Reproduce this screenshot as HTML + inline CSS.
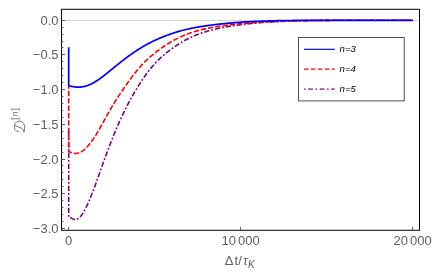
<!DOCTYPE html>
<html><head><meta charset="utf-8"><title>plot</title>
<style>
html,body{margin:0;padding:0;background:#fff;}
body{width:436px;height:278px;overflow:hidden;font-family:"Liberation Sans",sans-serif;}
svg{display:block;will-change:transform;}
svg text{font-family:"Liberation Sans",sans-serif;}
</style></head><body>
<svg width="436" height="278" viewBox="0 0 436 278">
<rect x="0" y="0" width="436" height="278" fill="#fff"/>
<!-- grid line y=0 -->
<line x1="61.5" y1="20.5" x2="419.5" y2="20.5" stroke="#d2d2d2" stroke-width="1"/>
<!-- curves -->
<g fill="none" stroke-width="1.72" stroke-linejoin="round">
<path stroke="#800080" stroke-width="1.62" stroke-dasharray="5.2 2 1.8 2" stroke-dashoffset="10.3" d="M68.70,130.00 L68.70,217.07 L69.20,217.09 L69.70,217.24 L70.20,217.46 L70.70,217.74 L71.20,218.03 L71.70,218.33 L72.20,218.61 L72.70,218.87 L73.20,219.09 L73.70,219.27 L74.20,219.40 L74.70,219.48 L75.20,219.51 L75.70,219.49 L76.20,219.41 L76.70,219.27 L77.20,219.08 L77.70,218.83 L78.20,218.53 L78.70,218.17 L79.20,217.76 L79.70,217.30 L80.20,216.78 L80.70,216.21 L81.20,215.60 L81.70,214.94 L82.20,214.23 L82.70,213.47 L83.20,212.68 L83.70,211.84 L84.20,210.97 L84.70,210.06 L85.20,209.12 L85.70,208.15 L86.20,207.15 L86.70,206.11 L87.20,205.06 L87.70,203.97 L88.20,202.86 L88.70,201.73 L89.20,200.58 L89.70,199.40 L90.20,198.21 L90.70,196.99 L91.20,195.76 L91.70,194.51 L92.20,193.25 L92.70,191.97 L93.20,190.67 L93.70,189.36 L94.20,188.04 L94.70,186.70 L95.20,185.35 L95.70,183.99 L96.20,182.62 L96.70,181.24 L97.20,179.85 L97.70,178.45 L98.20,177.05 L98.70,175.65 L99.20,174.24 L99.70,172.84 L100.20,171.43 L100.70,170.02 L101.20,168.61 L101.70,167.20 L102.20,165.80 L102.70,164.40 L103.20,163.00 L103.70,161.60 L104.20,160.22 L104.70,158.83 L105.20,157.46 L105.70,156.08 L106.20,154.72 L106.70,153.36 L107.20,152.01 L107.70,150.67 L108.20,149.33 L108.70,148.01 L109.20,146.69 L109.70,145.38 L110.20,144.08 L110.70,142.78 L111.20,141.50 L111.70,140.23 L112.20,138.96 L112.70,137.71 L113.20,136.47 L113.70,135.23 L114.20,134.01 L114.70,132.79 L115.20,131.58 L115.70,130.39 L116.20,129.20 L116.70,128.03 L117.20,126.86 L117.70,125.70 L118.20,124.56 L118.70,123.42 L119.20,122.30 L119.70,121.18 L120.20,120.07 L120.70,118.98 L121.20,117.89 L121.70,116.82 L122.20,115.75 L122.70,114.69 L123.20,113.65 L123.70,112.61 L124.20,111.58 L124.70,110.57 L125.20,109.56 L125.70,108.56 L126.20,107.57 L126.70,106.59 L127.20,105.61 L127.70,104.65 L128.20,103.69 L128.70,102.75 L129.20,101.81 L129.70,100.88 L130.00,100.32 L131.00,98.49 L132.00,96.69 L133.00,94.93 L134.00,93.19 L135.00,91.48 L136.00,89.80 L137.00,88.15 L138.00,86.52 L139.00,84.92 L140.00,83.35 L141.00,81.81 L142.00,80.30 L143.00,78.82 L144.00,77.37 L145.00,75.95 L146.00,74.56 L147.00,73.20 L148.00,71.87 L149.00,70.58 L150.00,69.31 L151.00,68.08 L152.00,66.88 L153.00,65.71 L154.00,64.57 L155.00,63.46 L156.00,62.39 L157.00,61.34 L158.00,60.33 L159.00,59.34 L160.00,58.38 L161.00,57.45 L162.00,56.54 L163.00,55.66 L164.00,54.80 L165.00,53.95 L166.00,53.13 L167.00,52.33 L168.00,51.54 L169.00,50.77 L170.00,50.02 L171.00,49.28 L172.00,48.56 L173.00,47.85 L174.00,47.15 L175.00,46.47 L176.00,45.79 L177.00,45.13 L178.00,44.48 L179.00,43.85 L180.00,43.23 L181.00,42.62 L182.00,42.03 L183.00,41.44 L184.00,40.88 L185.00,40.32 L186.00,39.78 L187.00,39.25 L188.00,38.74 L189.00,38.23 L190.00,37.75 L191.00,37.27 L192.00,36.81 L193.00,36.36 L194.00,35.93 L195.00,35.51 L196.00,35.10 L197.00,34.70 L198.00,34.32 L199.00,33.94 L200.00,33.58 L201.00,33.23 L202.00,32.89 L203.00,32.56 L204.00,32.24 L205.00,31.92 L206.00,31.62 L207.00,31.32 L208.00,31.04 L209.00,30.76 L210.00,30.49 L211.00,30.22 L212.00,29.96 L213.00,29.71 L214.00,29.47 L215.00,29.23 L216.00,29.00 L217.00,28.77 L218.00,28.55 L219.00,28.33 L220.00,28.12 L221.00,27.92 L222.00,27.71 L223.00,27.52 L224.00,27.32 L225.00,27.14 L226.00,26.95 L227.00,26.77 L228.00,26.60 L229.00,26.42 L230.00,26.26 L231.00,26.09 L232.00,25.93 L233.00,25.77 L234.00,25.62 L235.00,25.47 L236.00,25.32 L237.00,25.18 L238.00,25.04 L239.00,24.91 L240.00,24.77 L241.00,24.64 L242.00,24.52 L243.00,24.39 L244.00,24.27 L245.00,24.15 L246.00,24.04 L247.00,23.93 L248.00,23.82 L249.00,23.71 L250.00,23.60 L251.00,23.50 L252.00,23.40 L253.00,23.31 L254.00,23.21 L255.00,23.12 L256.00,23.03 L257.00,22.94 L258.00,22.86 L259.00,22.78 L260.00,22.70 L261.00,22.62 L262.00,22.54 L263.00,22.47 L264.00,22.39 L265.00,22.32 L266.00,22.26 L267.00,22.19 L268.00,22.12 L269.00,22.06 L270.00,22.00 L271.00,21.94 L272.00,21.88 L273.00,21.83 L274.00,21.77 L275.00,21.72 L276.00,21.67 L277.00,21.62 L278.00,21.57 L279.00,21.52 L280.00,21.48 L281.00,21.43 L282.00,21.39 L283.00,21.35 L284.00,21.31 L285.00,21.27 L286.00,21.23 L287.00,21.19 L288.00,21.16 L289.00,21.12 L290.00,21.09 L291.00,21.05 L292.00,21.02 L293.00,20.99 L294.00,20.96 L295.00,20.93 L296.00,20.91 L297.00,20.88 L298.00,20.85 L299.00,20.83 L300.00,20.81 L301.00,20.78 L302.00,20.76 L303.00,20.74 L304.00,20.72 L305.00,20.70 L306.00,20.68 L307.00,20.66 L308.00,20.64 L309.00,20.62 L310.00,20.61 L311.00,20.59 L312.00,20.57 L313.00,20.56 L314.00,20.55 L315.00,20.53 L316.00,20.52 L317.00,20.51 L318.00,20.49 L319.00,20.48 L320.00,20.47 L321.00,20.46 L322.00,20.45 L323.00,20.44 L324.00,20.43 L325.00,20.42 L326.00,20.42 L327.00,20.41 L328.00,20.40 L329.00,20.39 L330.00,20.39 L331.00,20.30 L332.00,20.30 L333.00,20.30 L334.00,20.30 L335.00,20.30 L336.00,20.30 L337.00,20.30 L338.00,20.30 L339.00,20.30 L340.00,20.30 L341.00,20.30 L342.00,20.30 L343.00,20.30 L344.00,20.30 L345.00,20.30 L346.00,20.30 L347.00,20.30 L348.00,20.30 L349.00,20.30 L350.00,20.30 L351.00,20.30 L352.00,20.30 L353.00,20.30 L354.00,20.30 L355.00,20.30 L356.00,20.30 L357.00,20.30 L358.00,20.30 L359.00,20.30 L360.00,20.30 L361.00,20.30 L362.00,20.30 L363.00,20.30 L364.00,20.30 L365.00,20.30 L366.00,20.30 L367.00,20.30 L368.00,20.30 L369.00,20.30 L370.00,20.30 L371.00,20.30 L372.00,20.30 L373.00,20.30 L374.00,20.30 L375.00,20.30 L376.00,20.30 L377.00,20.30 L378.00,20.30 L379.00,20.30 L380.00,20.30 L381.00,20.30 L382.00,20.30 L383.00,20.30 L384.00,20.30 L385.00,20.30 L386.00,20.30 L387.00,20.30 L388.00,20.30 L389.00,20.30 L390.00,20.30 L391.00,20.30 L392.00,20.30 L393.00,20.30 L394.00,20.30 L395.00,20.30 L396.00,20.30 L397.00,20.30 L398.00,20.30 L399.00,20.30 L400.00,20.30 L401.00,20.30 L402.00,20.30 L403.00,20.30 L404.00,20.30 L405.00,20.30 L406.00,20.30 L407.00,20.30 L408.00,20.30 L409.00,20.30 L410.00,20.30 L411.00,20.30 L412.00,20.30 L413.00,20.30"/>
<path stroke="#ff0000" stroke-width="1.62" stroke-dasharray="5.3 2.05" stroke-dashoffset="3.05" d="M68.70,86.60 L68.70,151.67 L69.20,151.78 L69.70,151.93 L70.20,152.10 L70.70,152.29 L71.20,152.49 L71.70,152.67 L72.20,152.84 L72.70,153.00 L73.20,153.14 L73.70,153.25 L74.20,153.34 L74.70,153.40 L75.20,153.44 L75.70,153.44 L76.20,153.42 L76.70,153.38 L77.20,153.30 L77.70,153.20 L78.20,153.07 L78.70,152.91 L79.20,152.73 L79.70,152.53 L80.20,152.30 L80.70,152.04 L81.20,151.77 L81.70,151.47 L82.20,151.14 L82.70,150.80 L83.20,150.44 L83.70,150.05 L84.20,149.64 L84.70,149.22 L85.20,148.77 L85.70,148.30 L86.20,147.82 L86.70,147.31 L87.20,146.78 L87.70,146.24 L88.20,145.68 L88.70,145.10 L89.20,144.50 L89.70,143.88 L90.20,143.25 L90.70,142.60 L91.20,141.94 L91.70,141.26 L92.20,140.56 L92.70,139.85 L93.20,139.13 L93.70,138.39 L94.20,137.64 L94.70,136.87 L95.20,136.09 L95.70,135.30 L96.20,134.49 L96.70,133.67 L97.20,132.84 L97.70,132.00 L98.20,131.15 L98.70,130.28 L99.20,129.41 L99.70,128.53 L100.20,127.65 L100.70,126.75 L101.20,125.86 L101.70,124.95 L102.20,124.05 L102.70,123.14 L103.20,122.24 L103.70,121.33 L104.20,120.42 L104.70,119.52 L105.20,118.61 L105.70,117.71 L106.20,116.80 L106.70,115.91 L107.20,115.01 L107.70,114.12 L108.20,113.23 L108.70,112.35 L109.20,111.47 L109.70,110.59 L110.20,109.73 L110.70,108.86 L111.20,108.01 L111.70,107.15 L112.20,106.31 L112.70,105.47 L113.20,104.64 L113.70,103.82 L114.20,103.00 L114.70,102.19 L115.20,101.38 L115.70,100.58 L116.20,99.79 L116.70,99.00 L117.20,98.22 L117.70,97.44 L118.20,96.67 L118.70,95.90 L119.20,95.14 L119.70,94.38 L120.20,93.63 L120.70,92.88 L121.20,92.13 L121.70,91.39 L122.20,90.65 L122.70,89.92 L123.20,89.19 L123.70,88.46 L124.20,87.74 L124.70,87.02 L125.20,86.30 L125.70,85.59 L126.20,84.88 L126.70,84.17 L127.20,83.47 L127.70,82.77 L128.20,82.07 L128.70,81.37 L129.20,80.68 L129.70,79.99 L130.00,79.57 L131.00,78.21 L132.00,76.87 L133.00,75.54 L134.00,74.24 L135.00,72.96 L136.00,71.70 L137.00,70.47 L138.00,69.27 L139.00,68.09 L140.00,66.94 L141.00,65.83 L142.00,64.74 L143.00,63.68 L144.00,62.65 L145.00,61.65 L146.00,60.68 L147.00,59.74 L148.00,58.83 L149.00,57.93 L150.00,57.06 L151.00,56.20 L152.00,55.36 L153.00,54.54 L154.00,53.73 L155.00,52.94 L156.00,52.15 L157.00,51.38 L158.00,50.62 L159.00,49.87 L160.00,49.13 L161.00,48.41 L162.00,47.70 L163.00,47.00 L164.00,46.31 L165.00,45.64 L166.00,44.98 L167.00,44.33 L168.00,43.70 L169.00,43.08 L170.00,42.48 L171.00,41.88 L172.00,41.31 L173.00,40.74 L174.00,40.19 L175.00,39.65 L176.00,39.13 L177.00,38.62 L178.00,38.12 L179.00,37.64 L180.00,37.17 L181.00,36.71 L182.00,36.26 L183.00,35.83 L184.00,35.41 L185.00,35.00 L186.00,34.60 L187.00,34.21 L188.00,33.83 L189.00,33.47 L190.00,33.11 L191.00,32.77 L192.00,32.43 L193.00,32.11 L194.00,31.79 L195.00,31.48 L196.00,31.18 L197.00,30.89 L198.00,30.61 L199.00,30.34 L200.00,30.08 L201.00,29.83 L202.00,29.58 L203.00,29.34 L204.00,29.11 L205.00,28.89 L206.00,28.67 L207.00,28.46 L208.00,28.25 L209.00,28.06 L210.00,27.86 L211.00,27.68 L212.00,27.50 L213.00,27.32 L214.00,27.15 L215.00,26.98 L216.00,26.82 L217.00,26.66 L218.00,26.51 L219.00,26.36 L220.00,26.21 L221.00,26.07 L222.00,25.93 L223.00,25.79 L224.00,25.66 L225.00,25.53 L226.00,25.40 L227.00,25.27 L228.00,25.15 L229.00,25.02 L230.00,24.90 L231.00,24.79 L232.00,24.67 L233.00,24.56 L234.00,24.45 L235.00,24.34 L236.00,24.23 L237.00,24.13 L238.00,24.03 L239.00,23.92 L240.00,23.83 L241.00,23.73 L242.00,23.63 L243.00,23.54 L244.00,23.45 L245.00,23.36 L246.00,23.27 L247.00,23.19 L248.00,23.11 L249.00,23.02 L250.00,22.94 L251.00,22.87 L252.00,22.79 L253.00,22.71 L254.00,22.64 L255.00,22.57 L256.00,22.50 L257.00,22.43 L258.00,22.36 L259.00,22.30 L260.00,22.24 L261.00,22.17 L262.00,22.11 L263.00,22.06 L264.00,22.00 L265.00,21.94 L266.00,21.89 L267.00,21.83 L268.00,21.78 L269.00,21.73 L270.00,21.68 L271.00,21.64 L272.00,21.59 L273.00,21.54 L274.00,21.50 L275.00,21.46 L276.00,21.42 L277.00,21.38 L278.00,21.34 L279.00,21.30 L280.00,21.26 L281.00,21.23 L282.00,21.19 L283.00,21.16 L284.00,21.13 L285.00,21.09 L286.00,21.06 L287.00,21.03 L288.00,21.00 L289.00,20.98 L290.00,20.95 L291.00,20.92 L292.00,20.90 L293.00,20.87 L294.00,20.85 L295.00,20.82 L296.00,20.80 L297.00,20.78 L298.00,20.76 L299.00,20.74 L300.00,20.72 L301.00,20.70 L302.00,20.68 L303.00,20.66 L304.00,20.64 L305.00,20.63 L306.00,20.61 L307.00,20.59 L308.00,20.58 L309.00,20.56 L310.00,20.55 L311.00,20.54 L312.00,20.52 L313.00,20.51 L314.00,20.50 L315.00,20.49 L316.00,20.48 L317.00,20.47 L318.00,20.46 L319.00,20.45 L320.00,20.44 L321.00,20.43 L322.00,20.42 L323.00,20.41 L324.00,20.40 L325.00,20.39 L326.00,20.39 L327.00,20.38 L328.00,20.37 L329.00,20.37 L330.00,20.36 L331.00,20.30 L332.00,20.30 L333.00,20.30 L334.00,20.30 L335.00,20.30 L336.00,20.30 L337.00,20.30 L338.00,20.30 L339.00,20.30 L340.00,20.30 L341.00,20.30 L342.00,20.30 L343.00,20.30 L344.00,20.30 L345.00,20.30 L346.00,20.30 L347.00,20.30 L348.00,20.30 L349.00,20.30 L350.00,20.30 L351.00,20.30 L352.00,20.30 L353.00,20.30 L354.00,20.30 L355.00,20.30 L356.00,20.30 L357.00,20.30 L358.00,20.30 L359.00,20.30 L360.00,20.30 L361.00,20.30 L362.00,20.30 L363.00,20.30 L364.00,20.30 L365.00,20.30 L366.00,20.30 L367.00,20.30 L368.00,20.30 L369.00,20.30 L370.00,20.30 L371.00,20.30 L372.00,20.30 L373.00,20.30 L374.00,20.30 L375.00,20.30 L376.00,20.30 L377.00,20.30 L378.00,20.30 L379.00,20.30 L380.00,20.30 L381.00,20.30 L382.00,20.30 L383.00,20.30 L384.00,20.30 L385.00,20.30 L386.00,20.30 L387.00,20.30 L388.00,20.30 L389.00,20.30 L390.00,20.30 L391.00,20.30 L392.00,20.30 L393.00,20.30 L394.00,20.30 L395.00,20.30 L396.00,20.30 L397.00,20.30 L398.00,20.30 L399.00,20.30 L400.00,20.30 L401.00,20.30 L402.00,20.30 L403.00,20.30 L404.00,20.30 L405.00,20.30 L406.00,20.30 L407.00,20.30 L408.00,20.30 L409.00,20.30 L410.00,20.30 L411.00,20.30 L412.00,20.30 L413.00,20.30"/>
<path stroke="#0000ff" d="M68.70,47.30 L68.70,85.81 L69.20,85.89 L69.70,85.98 L70.20,86.08 L70.70,86.19 L71.20,86.29 L71.70,86.40 L72.20,86.50 L72.70,86.59 L73.20,86.68 L73.70,86.76 L74.20,86.84 L74.70,86.90 L75.20,86.96 L75.70,87.01 L76.20,87.05 L76.70,87.08 L77.20,87.10 L77.70,87.11 L78.20,87.12 L78.70,87.12 L79.20,87.10 L79.70,87.08 L80.20,87.06 L80.70,87.02 L81.20,86.97 L81.70,86.91 L82.20,86.84 L82.70,86.77 L83.20,86.68 L83.70,86.58 L84.20,86.47 L84.70,86.36 L85.20,86.23 L85.70,86.09 L86.20,85.94 L86.70,85.78 L87.20,85.62 L87.70,85.44 L88.20,85.25 L88.70,85.06 L89.20,84.86 L89.70,84.64 L90.20,84.42 L90.70,84.19 L91.20,83.95 L91.70,83.71 L92.20,83.45 L92.70,83.19 L93.20,82.92 L93.70,82.64 L94.20,82.36 L94.70,82.07 L95.20,81.77 L95.70,81.46 L96.20,81.15 L96.70,80.83 L97.20,80.51 L97.70,80.18 L98.20,79.84 L98.70,79.50 L99.20,79.16 L99.70,78.80 L100.20,78.44 L100.70,78.08 L101.20,77.71 L101.70,77.34 L102.20,76.96 L102.70,76.58 L103.20,76.20 L103.70,75.81 L104.20,75.42 L104.70,75.03 L105.20,74.64 L105.70,74.24 L106.20,73.84 L106.70,73.44 L107.20,73.04 L107.70,72.64 L108.20,72.23 L108.70,71.83 L109.20,71.42 L109.70,71.02 L110.20,70.61 L110.70,70.20 L111.20,69.80 L111.70,69.39 L112.20,68.98 L112.70,68.57 L113.20,68.17 L113.70,67.76 L114.20,67.35 L114.70,66.95 L115.20,66.54 L115.70,66.14 L116.20,65.73 L116.70,65.33 L117.20,64.93 L117.70,64.53 L118.20,64.13 L118.70,63.73 L119.20,63.33 L119.70,62.93 L120.20,62.54 L120.70,62.14 L121.20,61.75 L121.70,61.36 L122.20,60.97 L122.70,60.58 L123.20,60.19 L123.70,59.80 L124.20,59.42 L124.70,59.04 L125.20,58.65 L125.70,58.27 L126.20,57.90 L126.70,57.52 L127.20,57.15 L127.70,56.78 L128.20,56.41 L128.70,56.04 L129.20,55.68 L129.70,55.31 L130.00,55.10 L131.00,54.38 L132.00,53.68 L133.00,52.98 L134.00,52.30 L135.00,51.62 L136.00,50.96 L137.00,50.30 L138.00,49.66 L139.00,49.03 L140.00,48.40 L141.00,47.79 L142.00,47.19 L143.00,46.60 L144.00,46.02 L145.00,45.46 L146.00,44.90 L147.00,44.35 L148.00,43.82 L149.00,43.29 L150.00,42.78 L151.00,42.27 L152.00,41.77 L153.00,41.28 L154.00,40.80 L155.00,40.33 L156.00,39.87 L157.00,39.42 L158.00,38.97 L159.00,38.54 L160.00,38.11 L161.00,37.69 L162.00,37.27 L163.00,36.87 L164.00,36.47 L165.00,36.08 L166.00,35.69 L167.00,35.31 L168.00,34.94 L169.00,34.58 L170.00,34.22 L171.00,33.87 L172.00,33.53 L173.00,33.20 L174.00,32.87 L175.00,32.55 L176.00,32.24 L177.00,31.93 L178.00,31.63 L179.00,31.34 L180.00,31.05 L181.00,30.78 L182.00,30.51 L183.00,30.24 L184.00,29.99 L185.00,29.74 L186.00,29.50 L187.00,29.26 L188.00,29.03 L189.00,28.81 L190.00,28.59 L191.00,28.39 L192.00,28.18 L193.00,27.98 L194.00,27.79 L195.00,27.60 L196.00,27.42 L197.00,27.24 L198.00,27.07 L199.00,26.90 L200.00,26.74 L201.00,26.58 L202.00,26.42 L203.00,26.27 L204.00,26.11 L205.00,25.97 L206.00,25.82 L207.00,25.68 L208.00,25.54 L209.00,25.41 L210.00,25.27 L211.00,25.14 L212.00,25.01 L213.00,24.88 L214.00,24.76 L215.00,24.63 L216.00,24.51 L217.00,24.40 L218.00,24.28 L219.00,24.17 L220.00,24.06 L221.00,23.95 L222.00,23.84 L223.00,23.73 L224.00,23.63 L225.00,23.53 L226.00,23.43 L227.00,23.34 L228.00,23.24 L229.00,23.15 L230.00,23.06 L231.00,22.98 L232.00,22.89 L233.00,22.81 L234.00,22.73 L235.00,22.65 L236.00,22.57 L237.00,22.50 L238.00,22.42 L239.00,22.35 L240.00,22.28 L241.00,22.22 L242.00,22.15 L243.00,22.09 L244.00,22.03 L245.00,21.97 L246.00,21.91 L247.00,21.85 L248.00,21.79 L249.00,21.74 L250.00,21.69 L251.00,21.64 L252.00,21.59 L253.00,21.54 L254.00,21.49 L255.00,21.45 L256.00,21.40 L257.00,21.36 L258.00,21.32 L259.00,21.28 L260.00,21.24 L261.00,21.20 L262.00,21.16 L263.00,21.13 L264.00,21.09 L265.00,21.06 L266.00,21.03 L267.00,20.99 L268.00,20.96 L269.00,20.93 L270.00,20.91 L271.00,20.88 L272.00,20.85 L273.00,20.83 L274.00,20.80 L275.00,20.78 L276.00,20.75 L277.00,20.73 L278.00,20.71 L279.00,20.69 L280.00,20.67 L281.00,20.65 L282.00,20.63 L283.00,20.62 L284.00,20.60 L285.00,20.58 L286.00,20.57 L287.00,20.55 L288.00,20.54 L289.00,20.52 L290.00,20.51 L291.00,20.50 L292.00,20.49 L293.00,20.47 L294.00,20.46 L295.00,20.45 L296.00,20.44 L297.00,20.43 L298.00,20.42 L299.00,20.41 L300.00,20.41 L301.00,20.40 L302.00,20.39 L303.00,20.38 L304.00,20.38 L305.00,20.37 L306.00,20.37 L307.00,20.36 L308.00,20.35 L309.00,20.35 L310.00,20.35 L311.00,20.34 L312.00,20.34 L313.00,20.33 L314.00,20.33 L315.00,20.33 L316.00,20.32 L317.00,20.32 L318.00,20.32 L319.00,20.32 L320.00,20.31 L321.00,20.31 L322.00,20.31 L323.00,20.31 L324.00,20.31 L325.00,20.31 L326.00,20.31 L327.00,20.31 L328.00,20.31 L329.00,20.31 L330.00,20.31 L331.00,20.30 L332.00,20.30 L333.00,20.30 L334.00,20.30 L335.00,20.30 L336.00,20.30 L337.00,20.30 L338.00,20.30 L339.00,20.30 L340.00,20.30 L341.00,20.30 L342.00,20.30 L343.00,20.30 L344.00,20.30 L345.00,20.30 L346.00,20.30 L347.00,20.30 L348.00,20.30 L349.00,20.30 L350.00,20.30 L351.00,20.30 L352.00,20.30 L353.00,20.30 L354.00,20.30 L355.00,20.30 L356.00,20.30 L357.00,20.30 L358.00,20.30 L359.00,20.30 L360.00,20.30 L361.00,20.30 L362.00,20.30 L363.00,20.30 L364.00,20.30 L365.00,20.30 L366.00,20.30 L367.00,20.30 L368.00,20.30 L369.00,20.30 L370.00,20.30 L371.00,20.30 L372.00,20.30 L373.00,20.30 L374.00,20.30 L375.00,20.30 L376.00,20.30 L377.00,20.30 L378.00,20.30 L379.00,20.30 L380.00,20.30 L381.00,20.30 L382.00,20.30 L383.00,20.30 L384.00,20.30 L385.00,20.30 L386.00,20.30 L387.00,20.30 L388.00,20.30 L389.00,20.30 L390.00,20.30 L391.00,20.30 L392.00,20.30 L393.00,20.30 L394.00,20.30 L395.00,20.30 L396.00,20.30 L397.00,20.30 L398.00,20.30 L399.00,20.30 L400.00,20.30 L401.00,20.30 L402.00,20.30 L403.00,20.30 L404.00,20.30 L405.00,20.30 L406.00,20.30 L407.00,20.30 L408.00,20.30 L409.00,20.30 L410.00,20.30 L411.00,20.30 L412.00,20.30 L413.00,20.30"/>
</g>
<!-- frame -->
<rect x="61.5" y="9.3" width="358.0" height="221.0" fill="none" stroke="#000" stroke-width="1"/>
<g stroke="#5c5c5c" stroke-width="1">
<line x1="61.50" y1="228.50" x2="65.00" y2="228.50"/>
<line x1="61.50" y1="221.50" x2="63.40" y2="221.50"/>
<line x1="61.50" y1="214.50" x2="63.40" y2="214.50"/>
<line x1="61.50" y1="207.50" x2="63.40" y2="207.50"/>
<line x1="61.50" y1="200.50" x2="63.40" y2="200.50"/>
<line x1="61.50" y1="193.50" x2="65.00" y2="193.50"/>
<line x1="61.50" y1="186.50" x2="63.40" y2="186.50"/>
<line x1="61.50" y1="179.50" x2="63.40" y2="179.50"/>
<line x1="61.50" y1="172.50" x2="63.40" y2="172.50"/>
<line x1="61.50" y1="165.50" x2="63.40" y2="165.50"/>
<line x1="61.50" y1="159.50" x2="65.00" y2="159.50"/>
<line x1="61.50" y1="152.50" x2="63.40" y2="152.50"/>
<line x1="61.50" y1="145.50" x2="63.40" y2="145.50"/>
<line x1="61.50" y1="138.50" x2="63.40" y2="138.50"/>
<line x1="61.50" y1="131.50" x2="63.40" y2="131.50"/>
<line x1="61.50" y1="124.50" x2="65.00" y2="124.50"/>
<line x1="61.50" y1="117.50" x2="63.40" y2="117.50"/>
<line x1="61.50" y1="110.50" x2="63.40" y2="110.50"/>
<line x1="61.50" y1="103.50" x2="63.40" y2="103.50"/>
<line x1="61.50" y1="96.50" x2="63.40" y2="96.50"/>
<line x1="61.50" y1="89.50" x2="65.00" y2="89.50"/>
<line x1="61.50" y1="82.50" x2="63.40" y2="82.50"/>
<line x1="61.50" y1="75.50" x2="63.40" y2="75.50"/>
<line x1="61.50" y1="68.50" x2="63.40" y2="68.50"/>
<line x1="61.50" y1="61.50" x2="63.40" y2="61.50"/>
<line x1="61.50" y1="54.50" x2="65.00" y2="54.50"/>
<line x1="61.50" y1="47.50" x2="63.40" y2="47.50"/>
<line x1="61.50" y1="41.50" x2="63.40" y2="41.50"/>
<line x1="61.50" y1="34.50" x2="63.40" y2="34.50"/>
<line x1="61.50" y1="27.50" x2="63.40" y2="27.50"/>
<line x1="61.50" y1="20.50" x2="65.00" y2="20.50"/>
<line x1="68.50" y1="230.30" x2="68.50" y2="227.00"/>
<line x1="240.50" y1="230.30" x2="240.50" y2="227.00"/>
<line x1="412.50" y1="230.30" x2="412.50" y2="227.00"/>
</g>
<g font-size="13" fill="#606060">
<text x="58.5" y="24.75" text-anchor="end">0.0</text>
<text x="58.5" y="59.45" text-anchor="end">−0.5</text>
<text x="58.5" y="94.15" text-anchor="end">−1.0</text>
<text x="58.5" y="128.85" text-anchor="end">−1.5</text>
<text x="58.5" y="163.55" text-anchor="end">−2.0</text>
<text x="58.5" y="198.25" text-anchor="end">−2.5</text>
<text x="58.5" y="232.95" text-anchor="end">−3.0</text>
<text x="68.70" y="244.7" text-anchor="middle">0</text>
<text x="240.65" y="244.7" text-anchor="middle">10<tspan dx="1.9">000</tspan></text>
<text x="412.60" y="244.7" text-anchor="middle">20<tspan dx="1.9">000</tspan></text>
</g>
<!-- x label -->
<text y="264.9" font-size="13" fill="#606060"><tspan x="224.7">Δ</tspan><tspan x="234.4">t</tspan><tspan x="238.2">/</tspan><tspan x="243.0" font-style="italic">τ</tspan><tspan x="247.9" font-style="italic" font-size="10" dy="2.7">K</tspan></text>
<!-- y label -->
<g fill="none" stroke="#6a6a6a" stroke-width="0.95" stroke-linecap="round" stroke-linejoin="round">
<path d="M24.0,131.9 C24.8,129.5 24.9,127 24.5,125.5 C24,123.3 22.5,121.4 19.6,121.1 C17.5,120.9 15.2,122.3 14.5,125.0 C14.0,127.2 14.6,129.4 15.8,130.5 C16.8,131.4 18,131.6 18.7,131.2 M15.4,125.8 C17,126.5 19.5,127.4 21.3,128.1 C22.6,128.7 23.4,129.8 24.0,131.9"/>
</g>
<text transform="translate(17.7,113.4) rotate(-90)" text-anchor="middle" font-size="8.4" letter-spacing="1.1" fill="#666">[<tspan font-style="italic">n</tspan>]</text>
<!-- legend -->
<rect x="298.5" y="37.5" width="105.7" height="63.4" fill="#fff" stroke="#505050" stroke-width="1"/>
<g fill="none" stroke-width="1.15">
<line x1="304" y1="49.3" x2="334.8" y2="49.3" stroke="#0000ff"/>
<line x1="304" y1="69.1" x2="334.8" y2="69.1" stroke="#ff0000" stroke-dasharray="4.4 2.6"/>
<line x1="304" y1="89.1" x2="334.8" y2="89.1" stroke="#800080" stroke-dasharray="1.6 2.55 4.8 2.55"/>
</g>
<g font-size="9.6" font-style="italic" fill="#000">
<text x="339.6" y="52.3">n=3</text>
<text x="339.6" y="72.25">n=4</text>
<text x="339.6" y="92.35">n=5</text>
</g>
</svg>
</body></html>
